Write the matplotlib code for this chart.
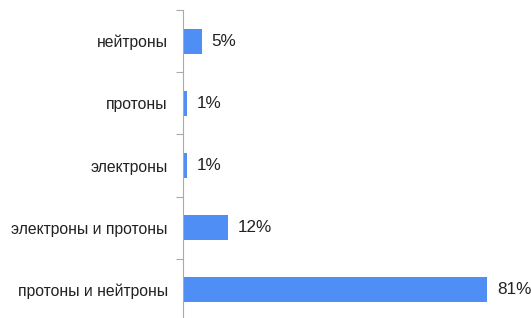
import matplotlib
matplotlib.use("Agg")
import matplotlib.pyplot as plt
import numpy as np

categories = ["нейтроны", "протоны", "электроны", "электроны и протоны", "протоны и нейтроны"]
values = [5, 1, 1, 12, 81]
labels = ["5%", "1%", "1%", "12%", "81%"]

plt.rcParams['font.family'] = ['Liberation Sans', 'DejaVu Sans']

W, H = 531, 318
fig = plt.figure(figsize=(W/100, H/100), dpi=100)
left, right = 183, 521
top, bottom = 10, 321
ax = fig.add_axes([left/W, 1 - bottom/H, (right-left)/W, (bottom-top)/H])

n = len(categories)
y = np.arange(n)
ax.barh(y, values, height=0.40, color="#4F8EF5", edgecolor="none")
ax.set_xlim(0, (right-left)/3.75)
ax.set_ylim(n - 0.5, -0.5)

for yi, v, lab in zip(y, values, labels):
    ax.annotate(lab, (v, yi), xytext=(10, 0), textcoords="offset pixels",
                va="center", ha="left", fontsize=12.3, color="#222222")

for s in ["top", "right", "bottom"]:
    ax.spines[s].set_visible(False)
ax.spines["left"].set_color("#AAAAAA")
ax.spines["left"].set_linewidth(0.8)
ax.set_xticks([])
ax.set_yticks(np.arange(-0.5, n, 1.0))
ax.set_yticklabels([])
ax.set_yticks(y, minor=True)
ax.set_yticklabels(categories, minor=True, fontsize=11.3, color="#222222")
ax.tick_params(axis="y", which="major", length=5, color="#AAAAAA", width=0.8)
ax.tick_params(axis="y", which="minor", length=0, pad=11)

fig.savefig("out.png", dpi=100)
